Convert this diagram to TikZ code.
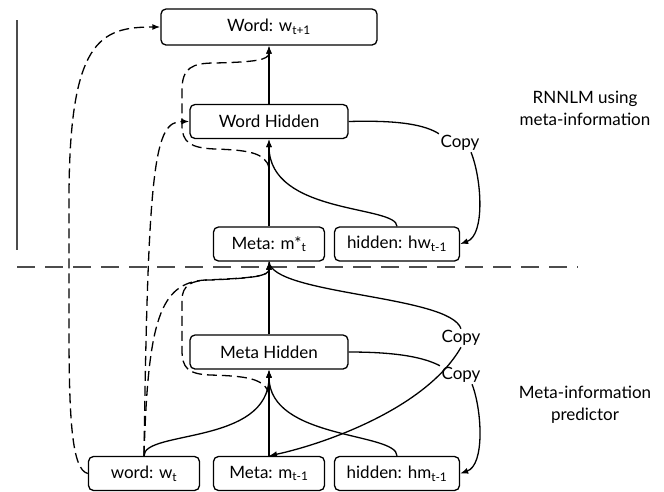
\documentclass[tikz,border=0pt]{standalone}
\usepackage{fontspec}
\setmainfont{Lato}
\usetikzlibrary{arrows.meta}
\usetikzlibrary{positioning}

\begin{document}
\begin{tikzpicture}[x=1pt,y=-1pt,>={Latex[length=8pt,width=6pt]},node distance=127pt,line width=1.3pt,font=\fontsize{17}{22}\selectfont]
  \tikzstyle{box}=[draw, rounded corners=5pt, minimum height=34pt, minimum width=111pt, inner sep=0pt]
  \tikzstyle{wide}=[box, minimum width=158pt]
  \tikzstyle{copylabel}=[inner sep=1pt]
  \tikzstyle{skip}=[dash pattern=on 10pt off 5pt]
  \tikzstyle{split}=[draw=black!70, line width=2.6pt, dash pattern=on 18pt off 10pt]
  \useasboundingbox (0,0) rectangle (664,491);

  % the two parts
  \draw[draw=black!70, line width=1.8pt] (17,20) -- (17,250);
  \draw[split] (17,267) -- (578,267);

  \node[box, minimum width=216pt, minimum height=36pt] (word) at (269,27) {Word: w\textsubscript{t+1}};
  \node[wide] (whid) at (269,121.5) {Word Hidden};
  \node[box] (mstar) at (269,244) {Meta: m*\textsubscript{t}};
  \node[box, minimum width=125pt] (hw) [right of=mstar, node distance=128pt] {hidden: hw\textsubscript{t-1}};
  \node[wide] (mhid) at (269,352) {Meta Hidden};
  \node[box] (mlast) at (269,473.5) {Meta: m\textsubscript{t-1}};
  \node[box] (wt) [left of=mlast, node distance=125pt] {word: w\textsubscript{t}};
  \node[box, minimum width=125pt] (hm) [right of=mlast, node distance=128pt] {hidden: hm\textsubscript{t-1}};

  \node[copylabel] (copyw) at (460,143) {Copy};
  \node[copylabel] (copym) at (461,338) {Copy};
  \node[copylabel] (copyh) at (461,375) {Copy};

  \node[align=center] (rnnlm) at (585,108) {RNNLM using\\meta-information};
  \node[align=center] (pred) at (585,405) {Meta-information\\predictor};

  \coordinate (wjoin) at (269,168);
  \coordinate (mjoin) at (269,395);

  % RNNLM part
  \draw[->] (whid.north) -- (word.south);
  \draw[->] (mstar.north) -- (whid.south);
  \draw[->] (hw.north) .. controls (397,205) and (269,215) .. (whid.south);
  \draw (whid.east) .. controls (400,120) and (425,125) .. (copyw.north west);
  \draw[->] (copyw.-40) .. controls (482,180) and (485,235) .. (hw.east);
  \draw[skip,->] (wjoin) .. controls (266,152) and (245,150) .. (215,149) .. controls (190,148) and (182,142) .. (182,125) -- (182,90) .. controls (182,68) and (192,63) .. (215,63) .. controls (255,62) and (269,60) .. (word.south);

  % predictor part
  \draw[->] (mhid.north) -- (mstar.south);
  \draw[->] (mlast.north) -- (mhid.south);
  \draw[->] (wt.north) .. controls (143.5,430) and (269,445) .. (mhid.south);
  \draw[->] (hm.north) .. controls (397,432) and (269,440) .. (mhid.south);
  \draw (mstar.south) .. controls (272,295) and (450,295) .. (copym.north);
  \draw[->] (copym.south) .. controls (425,410) and (320,445) .. (mlast.north);
  \draw (mhid.east) .. controls (400,352) and (425,358) .. (copyh.north west);
  \draw[->] (copyh.-40) .. controls (482,410) and (485,465) .. (hm.east);
  \draw[skip,->] (mjoin) .. controls (266,378) and (245,376) .. (210,375) .. controls (188,374) and (182,368) .. (182,350) -- (182,300) .. controls (182,285) and (192,280) .. (210,280) .. controls (255,278) and (269,276) .. (mstar.south);

  % word input
  \draw[skip,->] (wt.west) .. controls (72,470) and (69,420) .. (69,330) -- (69,200) .. controls (69,40) and (100,27) .. (word.west);
  \draw[skip,->] (wt.north) .. controls (148,160) and (155,121.5) .. (whid.west);
  \draw[skip,->] (wt.north) .. controls (148,320) and (160,283) .. (205,280) .. controls (255,278) and (269,276) .. (mstar.south);
\end{tikzpicture}
\end{document}
